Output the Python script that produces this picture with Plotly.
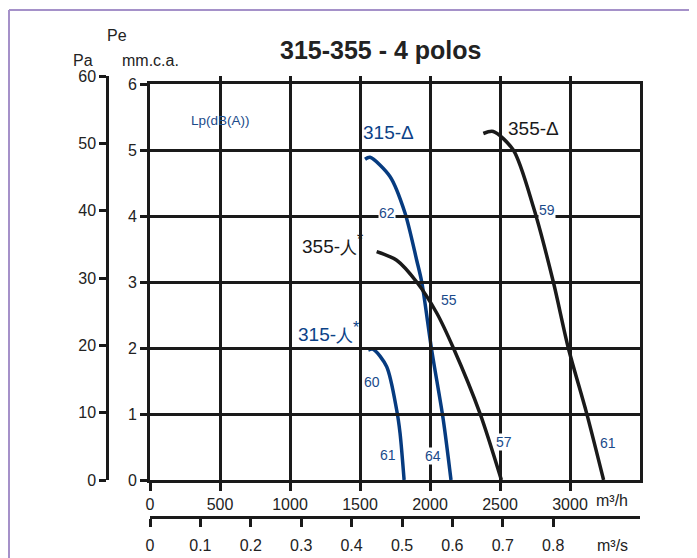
import plotly.graph_objects as go

# ---- data (flow in m3/h, pressure in mm.c.a.) ----
d315_x = [1536, 1571, 1714, 1821, 1905, 1941, 2012, 2095, 2150]
d315_y = [4.86, 4.89, 4.60, 4.05, 3.33, 3.00, 1.97, 0.91, 0.0]
d355_x = [2381, 2452, 2595, 2738, 2881, 2988, 3119, 3240]
d355_y = [5.25, 5.28, 5.00, 4.14, 3.00, 2.00, 1.01, 0.0]
s355_x = [1619, 1762, 1905, 2048, 2167, 2357, 2510]
s355_y = [3.46, 3.33, 3.00, 2.53, 2.00, 1.01, 0.0]
s315_x = [1559, 1595, 1690, 1762, 1786, 1815]
s315_y = [1.97, 1.98, 1.72, 1.06, 0.71, 0.0]

x_ticks_h = [0, 500, 1000, 1500, 2000, 2500, 3000]
x_ticks_s = [0, 0.1, 0.2, 0.3, 0.4, 0.5, 0.6, 0.7, 0.8]
y_ticks_mm = [0, 1, 2, 3, 4, 5, 6]
y_ticks_pa = [0, 10, 20, 30, 40, 50, 60]

STAR = "<sup><span style='font-size:16px'>*</span></sup>"
curve_labels = ["315-Δ", "355-Δ", "355-<span style='font-size:17px'>人</span>" + STAR,
                "315-<span style='font-size:17px'>人</span>" + STAR]
curve_label_pos = [(1700, 5.26), (2736, 5.33), (1300, 3.58), (1276, 2.25)]
curve_label_col = ["#0b4287", "#1a1a1a", "#1a1a1a", "#0b4287"]
lp_values = ["62", "59", "55", "60", "61", "64", "57", "61"]
lp_pos = [(1691, 4.04), (2834, 4.09), (2138, 2.73), (1584, 1.49),
          (1702, 0.38), (2024, 0.36), (2529, 0.57), (3274, 0.56)]

# page body has an 8px margin: figure is offset by (8, 8) in the window
OFF = 8
W, H = 697 - OFF, 558 - OFF
L, R, T, B = 100, 640, 76, 517  # plot area, window pixels
BLUE = "#063b80"
BLACK = "#1a1a1a"
FONT = "Liberation Sans Narrow, Arial Narrow, Liberation Sans, Arial"

def px(x):
    return (x - L) / (R - L)

def py(y):
    return (B - y) / (B - T)

fig = go.Figure()
for xs, ys, col in [(d315_x, d315_y, BLUE), (d355_x, d355_y, BLACK),
                    (s355_x, s355_y, BLACK), (s315_x, s315_y, BLUE)]:
    fig.add_trace(go.Scatter(x=xs, y=ys, mode="lines",
                             line=dict(color=col, width=3.5, shape="spline", smoothing=0.8),
                             showlegend=False, hoverinfo="skip"))
# empty traces to activate secondary axes
fig.add_trace(go.Scatter(x=[], y=[], xaxis="x", yaxis="y2", showlegend=False))
fig.add_trace(go.Scatter(x=[], y=[], xaxis="x2", yaxis="y", showlegend=False))

xdom = [px(150), 1.0]
ydom = [py(480), py(84)]
axfont = dict(family=FONT, size=16, color="#222")

fig.update_layout(
    width=W, height=H,
    margin=dict(l=L - OFF, r=697 - R, t=T - OFF, b=558 - B, pad=0, autoexpand=False),
    paper_bgcolor="white", plot_bgcolor="rgba(0,0,0,0)",
    font=dict(family=FONT, color="#222"),
    xaxis=dict(domain=xdom, range=[0, 3500], tickvals=x_ticks_h,
               showgrid=True, gridcolor=BLACK, gridwidth=2.5,
               showline=True, linecolor=BLACK, linewidth=3, mirror=True,
               ticks="outside", ticklen=8, tickwidth=2.5, tickcolor=BLACK,
               tickfont=axfont, zeroline=False, anchor="y", automargin=False),
    yaxis=dict(domain=ydom, range=[0, 6], tickvals=y_ticks_mm,
               showgrid=True, gridcolor=BLACK, gridwidth=2.5,
               showline=True, linecolor=BLACK, linewidth=3, mirror=True,
               ticks="outside", ticklen=7, tickwidth=2.5, tickcolor=BLACK,
               tickfont=axfont, zeroline=False, anchor="x", automargin=False),
    yaxis2=dict(domain=[py(480), py(76)], range=[0, 60], tickvals=y_ticks_pa,
                showgrid=False, showline=True, linecolor=BLACK, linewidth=2.5,
                ticks="outside", ticklen=7, tickwidth=2.5, tickcolor=BLACK,
                tickfont=axfont, zeroline=False, anchor="free", position=px(107),
                side="left", automargin=False),
    xaxis2=dict(domain=xdom, range=[0, 3500 / 3600], tickvals=x_ticks_s,
                ticktext=[f"{v:g}" for v in x_ticks_s],
                showgrid=False, showline=True, linecolor=BLACK, linewidth=3,
                ticks="outside", ticklen=8, tickwidth=2.5, tickcolor=BLACK,
                tickfont=axfont, zeroline=False, anchor="free", position=0,
                side="bottom", ticklabelstandoff=5, automargin=False),
)

def pann(txt, xx, yy, size=16, color="#222", **kw):
    return dict(text=txt, x=px(xx), y=py(yy), xref="paper", yref="paper",
                xanchor="center", yanchor="middle", showarrow=False,
                font=dict(family=FONT, size=size, color=color), **kw)

ann = []
ann.append(pann("<b>315-355 - 4 polos</b>", 380, 50, size=25))
for txt, xx, yy in [("Pe", 117, 35), ("Pa", 83, 60), ("mm.c.a.", 150, 60),
                    ("m³/h", 612, 500), ("m³/s", 612, 545)]:
    ann.append(pann(txt, xx, yy))
ann.append(dict(text="Lp(dB(A))", x=500, y=5.44, xref="x", yref="y", showarrow=False,
                xanchor="center", yanchor="middle",
                font=dict(family=FONT, size=13.5, color="#1a4a8a")))
for txt, (xx, yy), col in zip(curve_labels, curve_label_pos, curve_label_col):
    ann.append(dict(text=txt, x=xx, y=yy, xref="x", yref="y", showarrow=False,
                    xanchor="center", yanchor="middle",
                    font=dict(family=FONT, size=19, color=col)))
for txt, (xx, yy) in zip(lp_values, lp_pos):
    ann.append(dict(text=txt, x=xx, y=yy, xref="x", yref="y", showarrow=False,
                    xanchor="center", yanchor="middle",
                    bgcolor="white", borderpad=0,
                    font=dict(family=FONT, size=14, color="#1a4a8a")))
fig.update_layout(annotations=ann)

# outer decorative border (light purple)
fig.add_shape(type="line", xref="paper", yref="paper", x0=px(9), x1=px(697), y0=py(10), y1=py(10),
              line=dict(color="#a591c9", width=2))
fig.add_shape(type="line", xref="paper", yref="paper", x0=px(9), x1=px(9), y0=py(10), y1=py(558),
              line=dict(color="#a591c9", width=2))

fig.write_html("out.html")
